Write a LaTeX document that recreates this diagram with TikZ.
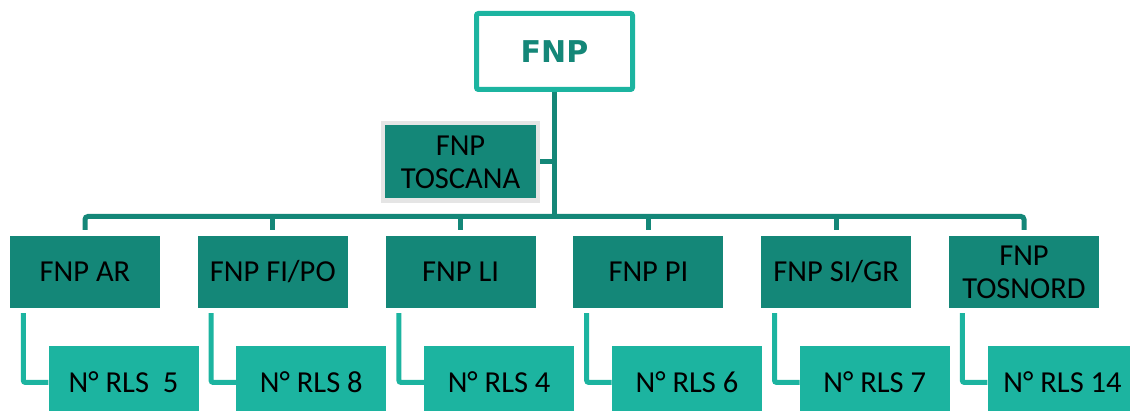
\documentclass[tikz,border=0pt]{standalone}
\usepackage{fontspec}
\setmainfont{Carlito}
\newfontfamily\fnpfont{DejaVu Sans}
\usetikzlibrary{positioning}
\definecolor{fnp-dark}{RGB}{20,135,120}
\definecolor{fnp-light}{RGB}{28,180,160}
\definecolor{fnp-gray}{RGB}{229,229,229}
\tikzset{
    head-box/.style = {draw=fnp-light, fill=white, line width=5pt, rectangle, rounded corners=2pt, minimum width=156pt, minimum height=76pt, text=fnp-dark, font=\fnpfont\bfseries\fontsize{30}{36}\selectfont},
    region-box/.style = {draw=fnp-gray, fill=fnp-dark, line width=4.5pt, rectangle, minimum width=155pt, minimum height=77.5pt, inner sep=2pt, align=center, font=\fontsize{30.5}{33}\selectfont},
    unit-box/.style = {fill=fnp-dark, rectangle, minimum width=150pt, minimum height=72pt, inner sep=2pt, align=center, font=\fontsize{30.5}{33}\selectfont},
    rls-box/.style = {fill=fnp-light, rectangle, minimum width=150pt, minimum height=72pt, inner sep=2pt, font=\fontsize{30.5}{33}\selectfont},
    trunk-line/.style = {draw=fnp-dark, line width=5pt, rounded corners=3pt},
    rls-line/.style = {draw=fnp-light, line width=5pt, rounded corners=2pt},
}

\begin{document}
\begin{tikzpicture}[x=1pt, y=-1pt]
\useasboundingbox (0,0) rectangle (1130,411);

% top and regional level
\node [head-box] (fnp) at (554.5,51.5) {FNP};
\node [region-box] (toscana) at (460.5,162) {FNP\\TOSCANA};
\coordinate (bar) at (554.5,216.5);

% provincial units
\node [unit-box] (ar) at (85,272) {FNP AR};
\node [unit-box] (fipo) at (272.8,272) {FNP FI/PO};
\node [unit-box] (li) at (460.6,272) {FNP LI};
\node [unit-box] (pi) at (648.4,272) {FNP PI};
\node [unit-box] (sigr) at (836.2,272) {FNP SI/GR};
\node [unit-box] (tosnord) at (1024,272) {FNP\\TOSNORD};

% number of RLS
\node [rls-box, below=38pt of ar, xshift=38.5pt] (rls-ar) {N° RLS~~5};
\node [rls-box, below=38pt of fipo, xshift=38.5pt] (rls-fipo) {N° RLS 8};
\node [rls-box, below=38pt of li, xshift=38.5pt] (rls-li) {N° RLS 4};
\node [rls-box, below=38pt of pi, xshift=38.5pt] (rls-pi) {N° RLS 6};
\node [rls-box, below=38pt of sigr, xshift=38.5pt] (rls-sigr) {N° RLS 7};
\node [rls-box, below=38pt of tosnord, xshift=38.5pt] (rls-tosnord) {N° RLS 14};

% connectors
\draw [trunk-line] (fnp.south) -- (bar);
\draw [trunk-line] (toscana.east) -- (toscana.east -| bar);
\draw [trunk-line] ([yshift=6pt]ar.north) |- (bar) -| ([yshift=6pt]tosnord.north);
\draw [trunk-line] ([yshift=6pt]fipo.north) -- (fipo.north |- bar);
\draw [trunk-line] ([yshift=6pt]li.north) -- (li.north |- bar);
\draw [trunk-line] ([yshift=6pt]pi.north) -- (pi.north |- bar);
\draw [trunk-line] ([yshift=6pt]sigr.north) -- (sigr.north |- bar);

\draw [rls-line] ([xshift=13.5pt, yshift=-5pt]ar.south west) |- (rls-ar.west);
\draw [rls-line] ([xshift=13.5pt, yshift=-5pt]fipo.south west) |- (rls-fipo.west);
\draw [rls-line] ([xshift=13.5pt, yshift=-5pt]li.south west) |- (rls-li.west);
\draw [rls-line] ([xshift=13.5pt, yshift=-5pt]pi.south west) |- (rls-pi.west);
\draw [rls-line] ([xshift=13.5pt, yshift=-5pt]sigr.south west) |- (rls-sigr.west);
\draw [rls-line] ([xshift=13.5pt, yshift=-5pt]tosnord.south west) |- (rls-tosnord.west);
\end{tikzpicture}
\end{document}
